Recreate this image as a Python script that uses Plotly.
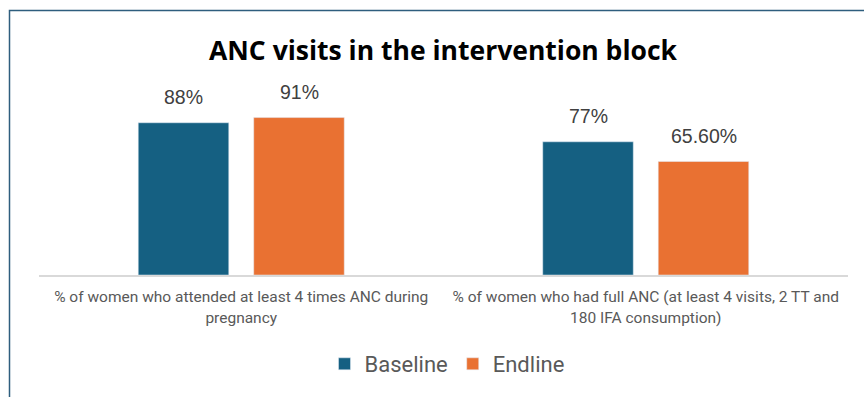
import plotly.graph_objects as go

categories = ["% of women who attended at least 4 times ANC during<br>pregnancy",
              "% of women who had full ANC (at least 4 visits, 2 TT and<br>180 IFA consumption)"]
baseline = [88, 77]
endline = [91, 65.6]
baseline_labels = ["88%", "77%"]
endline_labels = ["91%", "65.60%"]

W, H = 864, 397
L, R, T, B = 39, 16, 102, 122
pw, ph = W - L - R, H - T - B

def px(x):
    return (x - L) / pw

def py(y):
    return (H - B - y) / ph

fig = go.Figure()
fig.add_trace(go.Bar(name="Baseline", x=[0, 1], y=baseline, marker_color="#156082"))
fig.add_trace(go.Bar(name="Endline", x=[0, 1], y=endline, marker_color="#E97132"))

# data labels above bars (group slot offset = 57.75 px)
for vals, labs, shift in [(baseline, baseline_labels, -57.75), (endline, endline_labels, 57.75)]:
    for i, (v, t) in enumerate(zip(vals, labs)):
        fig.add_annotation(x=i, y=v, xref="x", yref="y", text=t, showarrow=False,
                           xshift=shift, yshift=25.5, yanchor="middle", xanchor="center",
                           font=dict(size=19.5, color="#404040", family="Liberation Sans"))

fig.update_layout(
    width=W, height=H,
    margin=dict(l=L, r=R, t=T, b=B, pad=0),
    paper_bgcolor="white", plot_bgcolor="white",
    barmode="group", bargap=0.429, bargroupgap=0.216,
    title=dict(text="<b>ANC visits in the intervention block</b>", x=443 / W, xanchor="center",
               y=1 - 51 / H, yanchor="middle",
               font=dict(size=26.5, color="black", family="Open Sans")),
    showlegend=True,
    legend=dict(orientation="h", x=px(447), xanchor="center", y=py(364), yanchor="middle",
                font=dict(size=22, color="#595959", family="Roboto"), itemwidth=30,
                traceorder="normal"),
    xaxis=dict(tickmode="array", tickvals=[0, 1], ticktext=categories,
               range=[-0.5, 1.5], showgrid=False, showline=True, linecolor="#D9D9D9",
               linewidth=1.5, ticks="", tickfont=dict(size=15.5, color="#595959", family="Roboto"),
               ticklabelstandoff=7),
    yaxis=dict(range=[0, 100], visible=False, showgrid=False, zeroline=False),
)
fig.update_traces(cliponaxis=False)

fig.add_shape(type="rect", xref="paper", yref="paper",
              x0=px(9.5), x1=px(880), y0=py(10.5), y1=py(420),
              line=dict(color="#2E5E7E", width=1.5), fillcolor="rgba(0,0,0,0)", layer="above")

fig.write_html("out.html")
